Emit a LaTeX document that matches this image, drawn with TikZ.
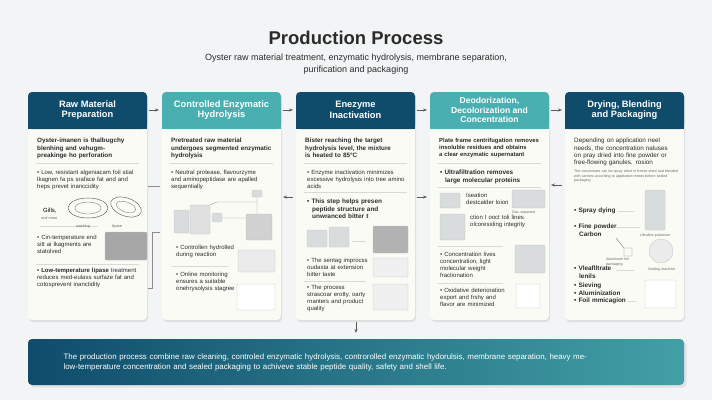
\documentclass[tikz,border=0pt]{standalone}
\usepackage{fontspec}
\setmainfont{Liberation Sans}
\usetikzlibrary{shadows,arrows.meta}
\definecolor{navy}{HTML}{0F4C6B}
\definecolor{teal}{HTML}{4AAFB0}
\definecolor{cardbg}{HTML}{FBFBF6}
\definecolor{txt}{HTML}{2B2B2B}
\definecolor{ph}{HTML}{D9DCDD}
\definecolor{bg}{HTML}{F2F4F5}
\hyphenpenalty=10000
\exhyphenpenalty=10000
\begin{document}
\begin{tikzpicture}[x=1pt,y=-1pt,
  card/.style={fill=cardbg,rounded corners=4pt,drop shadow={opacity=0.18,shadow xshift=1pt,shadow yshift=-2pt}},
  head/.style={font=\bfseries\fontsize{9.3}{10.5}\selectfont,text=white,align=center},
  intro/.style={anchor=north west,text width=104pt,align=left,font=\bfseries\fontsize{6.3}{7.4}\selectfont,text=txt,inner sep=0},
  bul/.style={anchor=north west,text width=#1,align=left,font=\fontsize{6}{7}\selectfont,text=txt,inner sep=0},
  bul/.default=104pt,
  bb/.style={bul=#1,font=\bfseries\fontsize{6.4}{7.4}\selectfont},
  bb/.default=104pt,
  dv/.style={draw=black!15,line width=0.4pt},
  img/.style={fill=ph,draw=black!25,line width=0.3pt,rounded corners=1pt},
  arr/.style={-{Stealth[length=4pt]},draw=black!65,line width=0.8pt},
  tiny/.style={anchor=north west,align=left,font=\fontsize{3.6}{4.4}\selectfont,text=black!60,inner sep=0,text width=#1},
  tiny/.default=104pt]
\fill[bg] (0,0) rectangle (712,400);
\useasboundingbox (0,0) rectangle (712,400);
\node[font=\bfseries\fontsize{18.5}{21}\selectfont,text=txt] (title) at (356,38) {Production Process};
\node[font=\fontsize{9}{11.5}\selectfont,text=txt,align=center] (sub) at (356,64) {Oyster raw material treatment, enzymatic hydrolysis, membrane separation,\\purification and packaging};
% cards
\foreach \i/\x/\c in {1/28/navy,2/162/teal,3/296/navy,4/430/teal,5/565/navy}{
  \path[card] (\x,92) rectangle (\x+119,320);
  \fill[\c,rounded corners=4pt] (\x,92) rectangle (\x+119,129);
  \fill[\c] (\x,120) rectangle (\x+119,129);
  \coordinate (c\i) at (\x+59.5,110);
}
\node[head] (h1) at (c1) {Raw Material\\Preparation};
\node[head] (h2) at (c2) {Controlled Enzymatic\\Hydrolysis};
\node[head] (h3) at (c3) {Enezyme\\Inactivation};
\node[head,font=\bfseries\fontsize{8.6}{9.6}\selectfont] (h4) at (c4) {Deodorization,\\Decolorization and\\Concentration};
\node[head] (h5) at (c5) {Drying, Blending\\and Packaging};
% header arrows
\draw[arr] (149,110) -- (159,110);
\draw[arr] (283,110) -- (293,110);
\draw[arr] (417,110) -- (427,110);
\draw[arr] (551,110) -- (562,110);
% mid arrows
\draw[arr] (293,197) -- (283,197);
\draw[arr] (417,197) -- (427,197);
\draw[arr] (562,185) -- (551,185);
\draw[draw=black!45,line width=0.5pt] (148,186) -- (160,186);
\draw[draw=black!45,line width=0.5pt] (148,288) -- (152,288) -- (152,232) -- (160,232);
\draw[arr] (356,322) -- (356,333);

% ---- card 1
\node[intro] (t1) at (37,138) {Oyster-imanen is thalbugchy\\blenhing and vehugm-\\preakinge ho perforation};
\draw[dv] (36,163) -- (139,163);
\node[bul] (t1b) at (37,170) {\textbullet\ Low, resistant algeniacam foil stial lkagnen fa ps sraface fat and and heps prevet inanccidity};
\draw[black!60,line width=0.5pt] (88,208) ellipse (20 and 10);
\draw[black!50,line width=0.4pt] (88,208) ellipse (13 and 6);
\draw[black!60,line width=0.5pt,rotate around={-20:(126,207)}] (126,207) ellipse (16 and 9);
\draw[black!50,line width=0.4pt,rotate around={-20:(126,207)}] (126,207) ellipse (10 and 5);
\node[anchor=west,font=\fontsize{6}{6.5}\selectfont,inner sep=0] (g1) at (43,211) {Gills,};
\node[anchor=west,font=\fontsize{3.8}{4}\selectfont,inner sep=0,text=black!60] (g2) at (41,218) {real meat};
\draw[dv] (40,226) -- (98,226);
\node[font=\fontsize{3.8}{4}\selectfont,text=black!60] (w1) at (83,227) {washing};
\node[font=\fontsize{3.8}{4}\selectfont,text=black!60] (w2) at (117,227) {lipase};
\node[bul=64pt] (t1c) at (37,235) {\textbullet\ Cin-temperature end sitt ai lkagments are statolved};
\path[img,fill=black!35] (105,232) rectangle (147,260);
\draw[dv] (36,264) -- (139,264);
\node[bul] (t1d) at (37,268) {\textbf{\textbullet\ Low-temperature lipase} treatment reduces med-eulass surfaze fat and cotosprevent inanctidity};

% ---- card 2
\node[intro] (t2) at (171,138) {Pretreated raw material\\undergoes segmented enzymatic\\hydrolysis};
\draw[dv] (170,163) -- (273,163);
\node[bul] (t2b) at (171,170) {\textbullet\ Neutral protease, flavourzyme and aminopeptidase are apalled sequentially};
\path[img] (174,210) rectangle (189,233);
\path[img,fill=black!12] (190,205) rectangle (210,234);
\path[img] (212,213) rectangle (222,222);
\path[img,fill=black!18] (246,214) rectangle (272,240);
\path[img] (252,190) rectangle (262,197);
\draw[black!40,line width=0.4pt] (257,197) -- (257,214) (210,205) -- (217,202) -- (257,202) (222,218) -- (246,218);
\node[bul=60pt] (t2c) at (176,245) {\textbullet\ Controllen hydrolled during reaction};
\path[img,fill=black!8] (238,250) rectangle (275,272);
\draw[dv] (172,266) -- (228,266);
\node[bul=60pt] (t2d) at (176,272) {\textbullet\ Online monitoring ensures a suitable onehrysolysis stagree};
\path[img,fill=white] (237,284) rectangle (275,310);

% ---- card 3
\node[intro] (t3) at (305,138) {Bister reaching the target\\hydrolysis level, the mixture\\is heated to 85°C};
\draw[dv] (304,163) -- (407,163);
\node[bul] (t3b) at (307,170) {\textbullet\ Enzyme inactivation minimizes excessive hydrolysis into tree amino acids};
\draw[dv] (304,192) -- (407,192);
\node[bb] (t3c) at (307,199) {\textbullet\ This step helps presen\\\hspace*{5pt}peptide structure and\\\hspace*{5pt}unwranced bitter t};
\path[img] (307,230) rectangle (327,247);
\path[img] (329,227) rectangle (349,247);
\draw[dv] (352,241) -- (366,241);
\path[img,fill=black!30] (373,226) rectangle (408,253);
\node[bul=62pt] (t3d) at (307,258) {\textbullet\ The sentag improcss oudasta at extension bitter taste};
\path[img,fill=black!6] (373,258) rectangle (408,277);
\draw[dv] (304,281) -- (366,281);
\node[bul=62pt] (t3e) at (307,285) {\textbullet\ The process strascoar erotty, oarty rnanters and product quality};
\path[img,fill=black!6] (373,284) rectangle (408,310);

% ---- card 4
\node[intro,font=\bfseries\fontsize{5.9}{7}\selectfont] (t4) at (439,138) {Plate frame centrifugation removes\\insoluble residues and obtains\\a clear enzymatic supernatant};
\draw[dv] (438,163) -- (541,163);
\node[bb] (t4b) at (440,170) {\textbullet\ Ultrafiltration removes\\\hspace*{5pt}large molecular proteins};
\draw[dv] (438,187) -- (541,187);
\path[img] (440,193) rectangle (460,208);
\node[bul=46pt] (t4c) at (466,193) {Iseation destcalder loion};
\path[img] (512,190) rectangle (545,208);
\node[tiny=40pt] (t4x) at (512,211) {Disc separator};
\path[img] (440,214) rectangle (465,240);
\node[bul=70pt] (t4d) at (470,215) {ction I ooct toli lines olcoressting integrity};
\draw[dv] (438,246) -- (503,246);
\node[bul=72pt] (t4e) at (440,252) {\textbullet\ Concentration lives concentration, light molecular weight fractionation};
\path[img] (515,245) rectangle (545,273);
\draw[dv] (438,283) -- (503,283);
\node[bul=72pt] (t4f) at (440,288) {\textbullet\ Oxidative deterioration export and frshy and flavor are minimized};
\path[img,fill=white] (516,284) rectangle (540,308);

% ---- card 5
\node[intro,font=\fontsize{6.3}{7.4}\selectfont] (t5) at (574,138) {Depending on application neel needs, the concentration naluses on pray dried into fine powder or free-flowing ganules. rosion};
\node[tiny] (t5x) at (574,170) {The concentrate can be spray dried or freeze dried and blended with carriers according to application needs before sealed packaging};
\node[bb=60pt] (t5a) at (574,208) {\textbullet\ Spray dying};
\draw[dv] (618,211) -- (634,211);
\path[img] (645,190) rectangle (665,230);
\node[bb=60pt] (t5b) at (574,224) {\textbullet\ Fine powder\\\hspace*{5pt}Carbon};
\draw[dv] (616,227) -- (640,227);
\node[tiny=40pt] (t5y) at (640,234) {Ultrafine pulverizer};
\draw[black!50,line width=0.4pt] (616,238) -- (624,248) rectangle (632,256);
\node[tiny=30pt] (t5z) at (606,258) {Aluminium foil packaging};
\draw[img,fill=black!8] (661,251) circle (12);
\node[tiny=40pt] (t5w) at (648,268) {Sealing machine};
\node[bb=60pt] (t5c) at (574,266) {\textbullet\ Vleaflltrate\\\hspace*{5pt}lenils};
\draw[dv] (616,270) -- (634,270);
\node[bb=60pt] (t5d) at (574,283) {\textbullet\ Sieving\\\textbullet\ Aluminization\\\textbullet\ Foil mmicagion};
\draw[dv] (628,301) -- (636,301);
\path[img,fill=white] (645,280) rectangle (676,308);

% ---- banner
\shade[left color=navy,right color=teal!85!navy,rounded corners=4pt,drop shadow={opacity=0.15}] (28,339) rectangle (684,385);
\node[anchor=west,text width=630pt,font=\fontsize{7.9}{10}\selectfont,text=white,align=left] (ban) at (60,362) {The production process combine raw cleaning, controled enzymatic hydrolysis, controrolled enzymatic hydorulsis, membrane separation, heavy me-\\low-temperature concentration and sealed packaging to achiveve stable peptide quality, safety and shell life.};
\end{tikzpicture}
\end{document}
